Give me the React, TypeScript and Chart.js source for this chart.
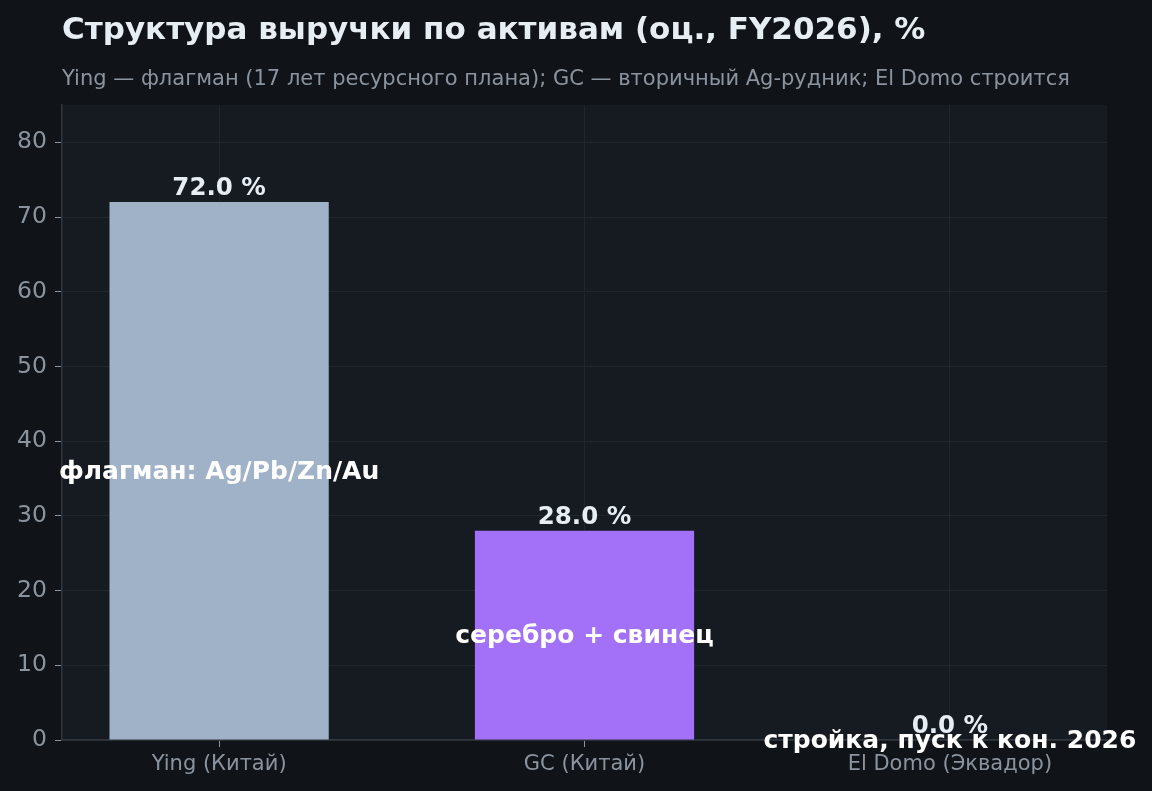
import { useEffect, useRef } from 'react';
import { Chart, registerables } from 'chart.js';

Chart.register(...registerables);

const categories = ['Ying (Китай)', 'GC (Китай)', 'El Domo (Эквадор)'];
const shares = [72.0, 28.0, 0.0];
const notes = ['флагман: Ag/Pb/Zn/Au', 'серебро + свинец', 'стройка, пуск к кон. 2026'];
const barColors = ['#a0b2c8', '#a371f7', '#3fb950'];
const yTicks = [0, 10, 20, 30, 40, 50, 60, 70, 80];

const TITLE = 'Структура выручки по активам (оц., FY2026), %';
const SUBTITLE =
    'Ying — флагман (17 лет ресурсного плана); GC — вторичный Ag-рудник; El Domo строится';

const FONT = '"DejaVu Sans", sans-serif';
Chart.defaults.font.family = FONT;

const decorPlugin = {
    id: 'decor',
    beforeDraw(chart: Chart) {
        const { ctx, chartArea, width, height } = chart;
        ctx.save();
        ctx.fillStyle = '#101418';
        ctx.fillRect(0, 0, width, height);
        ctx.fillStyle = '#161b22';
        ctx.fillRect(
            chartArea.left,
            chartArea.top,
            chartArea.right - chartArea.left,
            chartArea.bottom - chartArea.top
        );
        ctx.textAlign = 'left';
        ctx.textBaseline = 'alphabetic';
        ctx.fillStyle = '#e6edf3';
        ctx.font = `bold 31px ${FONT}`;
        ctx.fillText(TITLE, 62, 39);
        ctx.fillStyle = '#8b949e';
        ctx.font = `21px ${FONT}`;
        ctx.fillText(SUBTITLE, 62, 85);
        ctx.restore();
    },
    afterDatasetsDraw(chart: Chart) {
        const { ctx } = chart;
        const xs = chart.scales.x;
        const ys = chart.scales.y;
        ctx.save();
        ctx.textAlign = 'center';
        // value labels above bars
        ctx.font = `bold 24.5px ${FONT}`;
        ctx.fillStyle = '#e6edf3';
        ctx.textBaseline = 'bottom';
        shares.forEach((v, i) => {
            ctx.fillText(`${v.toFixed(1)} %`, xs.getPixelForValue(i), ys.getPixelForValue(v) - 1);
        });
        // notes in the middle of bars
        ctx.font = `bold 25px ${FONT}`;
        ctx.fillStyle = '#ffffff';
        ctx.textBaseline = 'middle';
        shares.forEach((v, i) => {
            ctx.fillText(notes[i], xs.getPixelForValue(i), ys.getPixelForValue(v / 2) + 1);
        });
        ctx.restore();
    },
};

export default function App() {
    const canvasRef = useRef<HTMLCanvasElement>(null);
    const chartRef = useRef<Chart | null>(null);

    useEffect(() => {
        document.body.style.margin = '0';
        document.body.style.background = '#101418';
        if (!canvasRef.current) return;
        if (chartRef.current) chartRef.current.destroy();

        chartRef.current = new Chart(canvasRef.current, {
            type: 'bar',
            data: {
                datasets: [
                    {
                        data: shares.map((v, i) => ({ x: i, y: v })),
                        backgroundColor: barColors,
                        barPercentage: 0.6,
                        categoryPercentage: 1,
                        borderWidth: 0,
                    },
                ],
            },
            options: {
                animation: false,
                responsive: true,
                maintainAspectRatio: false,
                layout: { padding: { top: 105, right: 45, left: 0, bottom: 0 } },
                plugins: {
                    legend: { display: false },
                    tooltip: { enabled: false },
                },
                scales: {
                    x: {
                        type: 'linear',
                        offset: false,
                        min: -0.43,
                        max: 2.43,
                        afterBuildTicks: (s) => {
                            s.ticks = categories.map((_, i) => ({ value: i }));
                        },
                        afterFit: (s) => {
                            s.height = 51;
                        },
                        ticks: {
                            callback: (v) => categories[Number(v)] ?? '',
                            color: '#8b949e',
                            font: { size: 21, family: FONT },
                            padding: 5,
                            maxRotation: 0,
                            autoSkip: false,
                        },
                        grid: {
                            offset: false,
                            color: '#21262d',
                            tickColor: '#8b949e',
                            tickLength: 7,
                            drawTicks: true,
                        },
                        border: { color: '#30363d', width: 1.5 },
                    },
                    y: {
                        min: 0,
                        max: 85,
                        afterBuildTicks: (s) => {
                            s.ticks = yTicks.map((v) => ({ value: v }));
                        },
                        afterFit: (s) => {
                            s.width = 62;
                        },
                        ticks: {
                            color: '#8b949e',
                            font: { size: 23.5, family: FONT },
                            padding: 8,
                        },
                        grid: {
                            color: '#21262d',
                            tickColor: '#8b949e',
                            tickLength: 7,
                        },
                        border: { color: '#30363d', width: 1.5 },
                    },
                },
            },
            plugins: [decorPlugin],
        });

        return () => {
            chartRef.current?.destroy();
            chartRef.current = null;
        };
    }, []);

    return (
        <div style={{ width: 1152, height: 791, position: 'relative' }}>
            <canvas ref={canvasRef} />
        </div>
    );
}
